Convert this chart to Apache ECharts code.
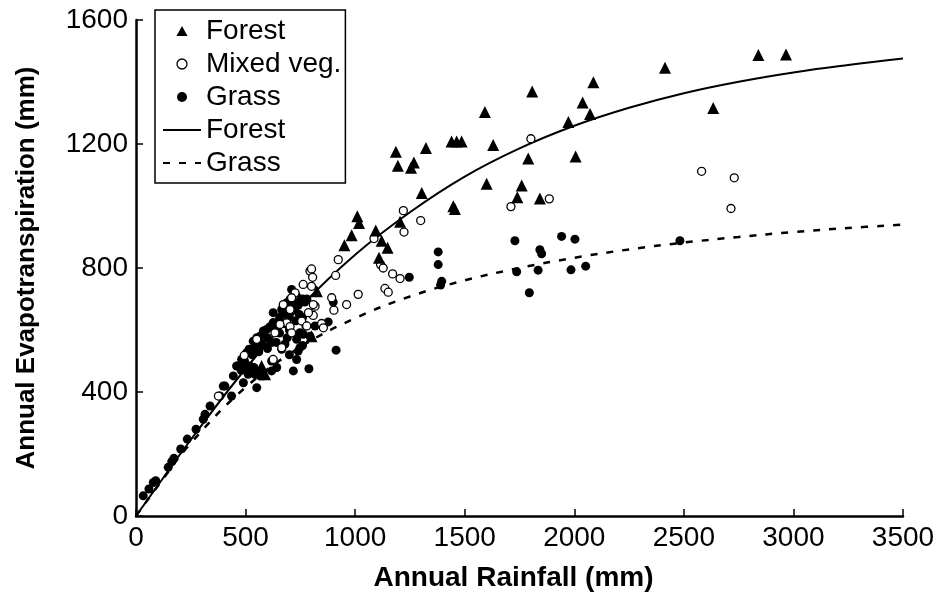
<!DOCTYPE html>
<html>
<head>
<meta charset="utf-8">
<script src="https://cdn.jsdelivr.net/npm/echarts@6/dist/echarts.min.js"></script>
<style>
html,body{margin:0;padding:0;background:#fff;}
#chart{width:945px;height:597px;}
</style>
</head>
<body>
<div id="chart"></div>
<script>
// ---- data ----
var xTicks = [0, 500, 1000, 1500, 2000, 2500, 3000, 3500];
var yTicks = [0, 400, 800, 1200, 1600];

var forestPts = [[2840,1487],[2966,1489],[2414,1446],[2087,1399],[1808,1369],[2038,1334],[2634,1316],[1592,1303],[2072,1297],[1973,1271],[1323,1187],[1440,1208],[1463,1208],[1486,1208],[1630,1197],[1186,1175],[2006,1160],[1790,1153],[1268,1140],[1195,1130],[1255,1123],[1600,1072],[1760,1066],[1304,1042],[1740,1028],[1843,1024],[1448,999],[1455,990],[1010,967],[1205,949],[1018,945],[1094,921],[984,906],[1121,888],[951,873],[1148,865],[1109,833],[825,725],[801,580],[589,457],[573,484]];

var mixedPts = [[1802,1217],[1220,985],[1299,953],[1223,916],[1086,895],[923,827],[1886,1023],[1711,998],[2581,1112],[2730,1091],[2715,992],[911,776],[794,790],[801,797],[806,770],[1116,811],[1128,800],[1171,781],[1205,766],[1136,734],[1151,722],[1014,715],[961,682],[903,664],[893,704],[763,747],[801,741],[817,677],[809,647],[776,613],[847,621],[855,607],[787,656],[756,629],[718,709],[726,720],[672,682],[703,666],[710,704],[688,623],[657,618],[703,611],[634,591],[710,591],[665,543],[626,505],[551,570],[494,518],[376,387],[779,613],[809,682]];

var grassPts = [[33,65],[59,87],[79,108],[90,114],[147,157],[163,175],[173,186],[204,216],[234,248],[274,280],[307,312],[315,328],[338,355],[383,387],[398,419],[406,419],[436,387],[444,452],[467,484],[459,484],[505,527],[516,538],[535,564],[551,559],[551,575],[566,580],[581,597],[596,602],[626,624],[626,656],[665,666],[688,682],[688,688],[703,699],[733,709],[710,731],[733,699],
[480,470],[495,500],[530,520],[545,545],[560,530],[575,555],[600,575],[610,610],[640,600],[655,640],[670,650],[680,620],[690,660],[700,640],[715,665],[720,690],[740,680],[745,650],[760,700],[770,690],[700,600],[655,590],[600,540],[620,560],[760,640],[780,700],[730,630],[690,575],[640,560],[760,550],[700,520],[680,555],
[490,430],[551,414],[581,452],[566,452],[512,457],[538,479],[543,457],[520,484],[505,484],[520,473],[482,505],[619,468],[619,500],[642,479],[665,538],[718,468],[733,505],[740,532],[748,543],[733,570],[748,591],[763,586],[794,580],[817,613],[877,626],[900,690],[913,535],[789,475],
[1247,770],[1379,852],[1379,811],[1395,757],[1390,745],[1729,888],[1843,859],[1851,846],[1737,788],[1835,793],[1795,720],[1942,902],[2003,893],[2482,888],[1985,794],[2052,806]];

var forestCurve = [[0,0],[100,99],[250,246],[500,475],[750,675],[1000,843],[1250,980],[1500,1095],[1750,1186],[2000,1259],[2250,1317],[2500,1364],[2750,1401],[3000,1431],[3250,1455],[3500,1476]];
var grassCurve = [[0,0],[100,97],[250,235],[500,415],[750,545],[1000,638],[1250,708],[1500,760],[1750,800],[2000,833],[2250,860],[2500,882],[2750,900],[3000,916],[3250,929],[3500,940]];

var chart = echarts.init(document.getElementById('chart'), null, {renderer: 'canvas'});
var FONT = 'Liberation Sans, Arial, Helvetica, sans-serif';

chart.setOption({
  backgroundColor: '#fff',
  animation: false,
  grid: {left: 136, right: 42, top: 20, bottom: 80, containLabel: false},
  legend: {
    orient: 'vertical',
    left: 155, top: 10,
    padding: [7, 4, 6, 7],
    itemGap: 5,
    itemWidth: 38,
    itemHeight: 10,
    borderColor: '#000',
    borderWidth: 1.5,
    borderRadius: 0,
    backgroundColor: '#fff',
    selectedMode: false,
    textStyle: {fontFamily: FONT, fontSize: 28, color: '#000'},
    formatter: function (n) { return n.trim(); },
    data: [
      {name: 'Forest', icon: 'path://M5,0 L10,9 L0,9 Z', itemStyle: {color: '#000', opacity: 1}},
      {name: 'Mixed veg.', icon: 'circle', itemStyle: {color: '#fff', borderColor: '#000', borderWidth: 1.3, opacity: 1}},
      {name: 'Grass', icon: 'circle', itemStyle: {color: '#000', opacity: 1}},
      {name: 'Forest ', itemStyle: {opacity: 0}},
      {name: 'Grass ', itemStyle: {opacity: 0}}
    ]
  },
  xAxis: {
    type: 'value', min: 0, max: 3500, interval: 500,
    name: 'Annual Rainfall (mm)', nameLocation: 'middle', nameGap: 48,
    nameTextStyle: {fontFamily: FONT, fontSize: 28, fontWeight: 'bold', color: '#000', padding: [0, 12, 0, 0]},
    axisLine: {show: true, lineStyle: {color: '#000', width: 2.5}},
    axisTick: {show: true, inside: true, length: 7, lineStyle: {color: '#000', width: 1.5}},
    axisLabel: {fontFamily: FONT, fontSize: 28, color: '#000', margin: 8,
      formatter: function (v) { return xTicks.indexOf(v) >= 0 ? String(v) : ''; }},
    splitLine: {show: false}
  },
  yAxis: {
    type: 'value', min: 0, max: 1600, interval: 400,
    name: 'Annual Evapotranspiration (mm)', nameLocation: 'middle', nameGap: 96,
    nameTextStyle: {fontFamily: FONT, fontSize: 26, fontWeight: 'bold', color: '#000'},
    axisLine: {show: true, lineStyle: {color: '#000', width: 2.5}},
    axisTick: {show: true, inside: true, length: 7, lineStyle: {color: '#000', width: 1.5}},
    axisLabel: {fontFamily: FONT, fontSize: 28, color: '#000', margin: 8,
      formatter: function (v) { return yTicks.indexOf(v) >= 0 ? String(v) : ''; }},
    splitLine: {show: false}
  },
  series: [
    {name: 'Forest ', type: 'line', data: forestCurve, smooth: 0.4, symbol: 'none', z: 2,
     lineStyle: {color: '#000', width: 2}, itemStyle: {color: '#000'}},
    {name: 'Grass ', type: 'line', data: grassCurve, smooth: 0.4, symbol: 'none', z: 2,
     lineStyle: {color: '#000', width: 2.5, type: [7, 9]}, itemStyle: {color: '#000'}},
    {name: 'Grass', type: 'scatter', data: grassPts, symbol: 'circle', symbolSize: 9, z: 3,
     itemStyle: {color: '#000', opacity: 1}},
    {name: 'Mixed veg.', type: 'scatter', data: mixedPts, symbol: 'circle', symbolSize: 8, z: 4,
     itemStyle: {color: '#fff', borderColor: '#000', borderWidth: 1.3, opacity: 1}},
    {name: 'Forest', type: 'scatter', data: forestPts, symbol: 'triangle', symbolSize: 12, z: 5,
     itemStyle: {color: '#000', opacity: 1}}
  ]
});
</script>
</body>
</html>
